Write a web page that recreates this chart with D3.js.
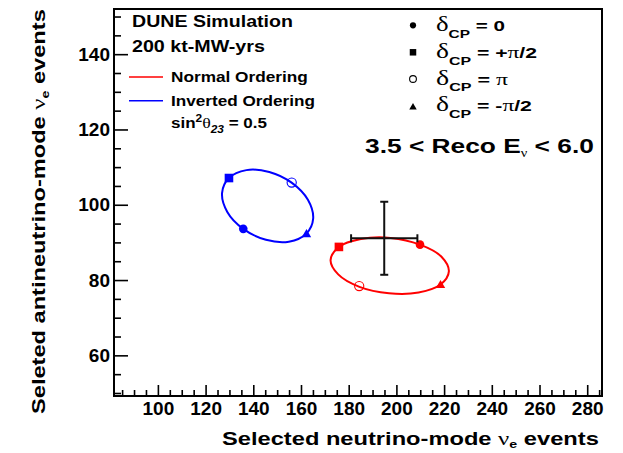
<!DOCTYPE html>
<html>
<head>
<meta charset="utf-8">
<script src="https://cdn.jsdelivr.net/npm/d3@7"></script>
<style>
  html, body { margin: 0; padding: 0; background: #fff; }
  svg { display: block; }
</style>
</head>
<body>
<svg id="chart" width="623" height="453"></svg>
<script>
// ---------------- data ----------------
const deltaLabels = ["0", "+π/2", "π", "-π/2"];
const deltaShapes = ["circle", "square", "opencircle", "triangle"];

// Normal ordering (red): points at δCP = 0, +π/2, π, -π/2
const noX = [209.9, 175.9, 184.4, 218.5];
const noY = [89.4, 88.8, 78.4, 78.6];
// Inverted ordering (blue)
const ioX = [135.8, 129.8, 156.1, 162.3];
const ioY = [93.6, 107.1, 105.9, 92.1];

// ellipse traces
const noCurveX = [209.9, 197.6, 185.1, 175.9, 172.4, 175.6, 184.5, 196.9, 209.3, 218.5, 222.0, 218.9];
const noCurveY = [89.4, 91.2, 90.9, 88.8, 85.3, 81.5, 78.2, 76.5, 76.7, 78.8, 82.3, 86.2];
const ioCurveX = [135.8, 129.1, 126.9, 129.8, 137.1, 146.7, 156.2, 162.9, 165.1, 162.2, 154.9, 145.3];
const ioCurveY = [93.6, 98.1, 103.1, 107.1, 109.2, 108.7, 105.8, 101.3, 96.3, 92.3, 90.2, 90.7];

// measured point with uncertainties
const measX = [194.9], measY = [91.1], measEX = [13.9], measEY = [9.7];

const xMajor = [100, 120, 140, 160, 180, 200, 220, 240, 260, 280];
const yMajor = [60, 80, 100, 120, 140];
const xMinor = d3.range(85, 286, 5).filter(v => v % 20 !== 0);
const yMinor = d3.range(50, 151, 5).filter(v => v % 20 !== 0);

// ---------------- layout ----------------
const SANS = "'Liberation Sans', Arial, Helvetica, sans-serif";
const SERIF = "'Liberation Serif', 'DejaVu Serif', serif";
const RED = "#ff0000", BLUE = "#0000ff";
const frame = { left: 114, right: 602, top: 9, bottom: 396 };

const svg = d3.select("#chart");
const x = d3.scaleLinear().domain([81.6, 286.2]).range([frame.left, frame.right]);
const y = d3.scaleLinear().domain([49.2, 152]).range([frame.bottom, frame.top]);

// axes (ROOT style: ticks point inward)
function styleAxis(g) {
  g.select(".domain").remove();
  g.selectAll("line").attr("stroke", "#000").attr("stroke-width", 1.6);
  g.selectAll("text").attr("font-family", SANS).attr("font-weight", "bold")
    .attr("font-size", 19).attr("fill", "#000");
}
svg.append("g").attr("transform", `translate(0,${frame.bottom})`)
  .call(d3.axisBottom(x).tickValues(xMinor).tickSize(-6).tickFormat(""))
  .call(styleAxis);
svg.append("g").attr("transform", `translate(0,${frame.bottom})`)
  .call(d3.axisBottom(x).tickValues(xMajor).tickSize(-11).tickPadding(6).tickFormat(d3.format("d")))
  .call(styleAxis);
svg.append("g").attr("transform", `translate(${frame.left},0)`)
  .call(d3.axisLeft(y).tickValues(yMinor).tickSize(-7).tickFormat(""))
  .call(styleAxis);
svg.append("g").attr("transform", `translate(${frame.left},0)`)
  .call(d3.axisLeft(y).tickValues(yMajor).tickSize(-14).tickPadding(4).tickFormat(d3.format("d")))
  .call(styleAxis);

// frame
svg.append("rect")
  .attr("x", frame.left).attr("y", frame.top)
  .attr("width", frame.right - frame.left).attr("height", frame.bottom - frame.top)
  .attr("fill", "none").attr("stroke", "#000").attr("stroke-width", 2);

// ellipses
const line = d3.line().curve(d3.curveCatmullRomClosed.alpha(0.5));
function drawCurve(cx, cy, color) {
  svg.append("path")
    .attr("d", line(cx.map((v, i) => [x(v), y(cy[i])])))
    .attr("fill", "none").attr("stroke", color).attr("stroke-width", 2);
}
drawCurve(ioCurveX, ioCurveY, BLUE);
drawCurve(noCurveX, noCurveY, RED);

// markers
function marker(g, shape, px, py, color, s) {
  if (shape === "opencircle") {
    g.append("circle").attr("cx", px).attr("cy", py).attr("r", s.r + 0.3)
      .attr("fill", "none").attr("stroke", color).attr("stroke-width", 1.1);
    return;
  }
  const type = shape === "circle" ? d3.symbolCircle : shape === "square" ? d3.symbolSquare : d3.symbolTriangle;
  const size = shape === "circle" ? Math.PI * s.r * s.r : shape === "square" ? s.sq * s.sq : s.tri;
  g.append("path").attr("d", d3.symbol().type(type).size(size)())
    .attr("transform", `translate(${px},${py})`).attr("fill", color);
}
const plotMarkers = { r: 4.3, sq: 8.6, tri: 38 };
function drawPoints(xs, ys, color) {
  const g = svg.append("g");
  xs.forEach((v, i) => marker(g, deltaShapes[i], x(v), y(ys[i]), color, plotMarkers));
}
drawPoints(ioX, ioY, BLUE);
drawPoints(noX, noY, RED);

// error bars
const eb = svg.append("g").attr("stroke", "#111").attr("stroke-width", 2).attr("fill", "none");
measX.forEach((mx, i) => {
  const cx = x(mx), cy = y(measY[i]);
  const x0 = x(mx - measEX[i]), x1 = x(mx + measEX[i]);
  const y0 = y(measY[i] - measEY[i]), y1 = y(measY[i] + measEY[i]);
  eb.append("line").attr("x1", x0).attr("x2", x1).attr("y1", cy).attr("y2", cy);
  eb.append("line").attr("x1", cx).attr("x2", cx).attr("y1", y0).attr("y2", y1);
  eb.append("line").attr("x1", x0).attr("x2", x0).attr("y1", cy - 4).attr("y2", cy + 4);
  eb.append("line").attr("x1", x1).attr("x2", x1).attr("y1", cy - 4).attr("y2", cy + 4);
  eb.append("line").attr("x1", cx - 4).attr("x2", cx + 4).attr("y1", y0).attr("y2", y0);
  eb.append("line").attr("x1", cx - 4).attr("x2", cx + 4).attr("y1", y1).attr("y2", y1);
});

// rich text helper (subscripts / superscripts / symbol glyphs), fitted to a width
function richText(o) {
  const t = svg.append("text")
    .attr("font-family", SANS).attr("font-weight", "bold")
    .attr("font-size", o.size).attr("fill", "#000");
  let off = 0;
  o.parts.forEach(p => {
    const ts = t.append("tspan").text(p.t);
    const small = p.sub || p.sup;
    const fs = small ? o.size * (p.k || 0.7) : o.size * (p.k || 1);
    ts.attr("font-size", fs);
    if (p.serif) ts.attr("font-family", SERIF).attr("font-weight", "normal");
    if (p.italic) ts.attr("font-style", "italic");
    const target = p.sub ? o.size * (p.d || 0.32) : p.sup ? -o.size * (p.d || 0.4) : 0;
    ts.attr("dy", target - off);
    off = target;
  });
  const w = t.node().getComputedTextLength();
  const sx = o.width ? o.width / w : 1;
  const W = o.width || w;
  const dx = o.anchor === "end" ? -W : o.anchor === "middle" ? -W / 2 : 0;
  t.attr("transform",
    `translate(${o.x},${o.y})` + (o.rotate ? ` rotate(${o.rotate})` : "") +
    ` translate(${dx},0) scale(${sx},1)`);
  return t;
}

// axis titles
richText({ x: 599, y: 445, size: 18.5, width: 377, anchor: "end",
  parts: [{ t: "Selected neutrino-mode  " }, { t: "ν", serif: true, k: 1.05 }, { t: "e", sub: true, k: 0.6, d: 0.18 }, { t: "  events" }] });
richText({ x: 45, y: 9, size: 18.5, width: 405, anchor: "end", rotate: -90,
  parts: [{ t: "Seleted antineutrino-mode  " }, { t: "ν", serif: true, k: 1.05 }, { t: "e", sub: true, k: 0.6, d: 0.22 }, { t: "  events" }] });

// left legend
richText({ x: 132, y: 27, size: 16.5, width: 161, parts: [{ t: "DUNE Simulation" }] });
richText({ x: 132, y: 52, size: 16.5, width: 133, parts: [{ t: "200 kt-MW-yrs" }] });
svg.append("line").attr("x1", 129).attr("x2", 163).attr("y1", 77).attr("y2", 77)
  .attr("stroke", RED).attr("stroke-width", 1.6);
svg.append("line").attr("x1", 129).attr("x2", 163).attr("y1", 100.7).attr("y2", 100.7)
  .attr("stroke", BLUE).attr("stroke-width", 1.6);
richText({ x: 171, y: 82, size: 14.5, width: 137, parts: [{ t: "Normal Ordering" }] });
richText({ x: 171, y: 106, size: 14.5, width: 144, parts: [{ t: "Inverted Ordering" }] });
richText({ x: 171, y: 128, size: 14.5, width: 96,
  parts: [{ t: "sin" }, { t: "2", sup: true, k: 0.7 }, { t: "θ", serif: true, k: 1.05 }, { t: "23", sub: true, italic: true, k: 0.7 }, { t: " = 0.5" }] });

// right legend
const legRowsY = [25.3, 52.3, 79, 107.3];
const legBase = [31, 58, 84.5, 111];
const legWidths = [69, 101, 72, 96];
const legMarkers = { r: 3.1, sq: 6.5, tri: 24 };
const lg = svg.append("g");
deltaLabels.forEach((lab, i) => {
  marker(lg, deltaShapes[i], 413, legRowsY[i], "#000", legMarkers);
  const valueParts = lab.split(/(π)/).filter(s => s.length)
    .map(s => s === "π" ? { t: "π", serif: true, k: 1.1 } : { t: s });
  richText({ x: 436, y: legBase[i], size: 15.5, width: legWidths[i],
    parts: [{ t: "δ", serif: true, k: 1.3 }, { t: "CP", sub: true, k: 0.75, d: 0.45 }, { t: " = " + (lab === "π" ? " " : "") }].concat(valueParts) });
});

// energy range label
richText({ x: 365, y: 153, size: 21, width: 229,
  parts: [{ t: "3.5 < Reco E" }, { t: "ν", serif: true, sub: true, k: 0.55, d: 0.2 }, { t: " < 6.0" }] });
</script>
</body>
</html>
